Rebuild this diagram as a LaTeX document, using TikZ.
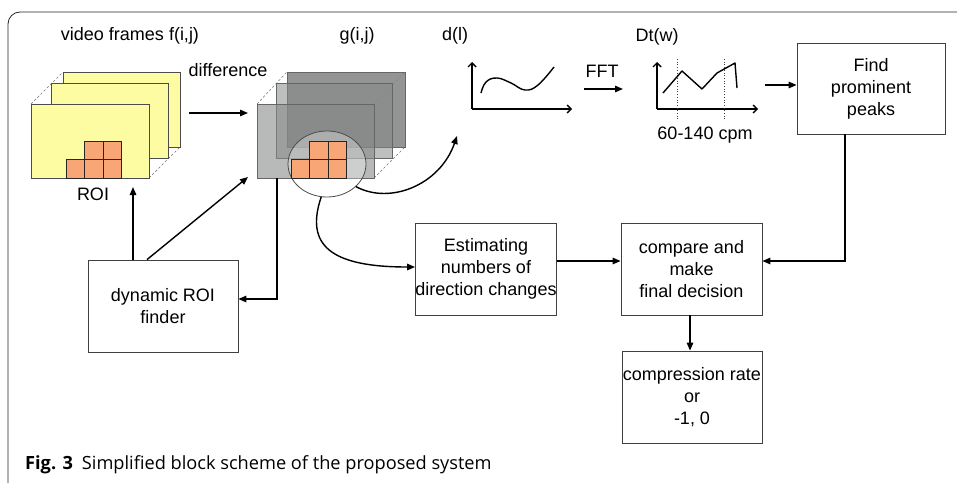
\documentclass[tikz,border=0pt]{standalone}
\usepackage{fontspec}
\setmainfont{Liberation Sans}
\newfontfamily\capfont{Open Sans}
\usetikzlibrary{arrows.meta,shapes.geometric}
\definecolor{fyel}{HTML}{FDFCA2}
\definecolor{forg}{HTML}{F9A676}
\definecolor{gfrm}{HTML}{878888}
\begin{document}
\begin{tikzpicture}[x=1pt,y=-1pt,
  box/.style={draw=black!75, line width=0.8pt, fill=white, align=center, inner sep=0pt, font=\fontsize{18}{22}\selectfont},
  arr/.style={line width=1.4pt, -{Triangle[length=8pt,width=6.5pt]}},
  ln/.style={line width=1.4pt},
  axis/.style={line width=1.4pt, -{Straight Barb[length=4pt,width=8pt]}},
  lbl/.style={font=\fontsize{18}{22}\selectfont, inner sep=0pt},
  dsh/.style={dashed, black!55, line width=0.5pt, dash pattern=on 2.5pt off 2pt},
  frm/.style={draw=black!70, line width=0.7pt},
  gfr/.style={draw=black!60, line width=0.6pt, fill=gfrm},
  sq/.style={draw=black!85, line width=0.7pt, fill=forg},
]
\useasboundingbox (0,0) rectangle (957,482);
\draw[black!85, line width=0.8pt, rounded corners=12pt] (8,12) rectangle (990,510);

% yellow frames
\draw[dsh] (31,104) -- (63,72) (149,104) -- (180,72) (149,178) -- (180,147);
\draw[frm, fill=fyel] (63,72) rectangle (180,147);
\draw[frm, fill=fyel] (51,83) rectangle (168,158);
\draw[frm, fill=fyel] (31,104) rectangle (149,178);
\foreach \x in {66,84.5,103} \draw[sq] (\x,159.5) rectangle ++(18.5,18.5);
\foreach \x in {84.5,103} \draw[sq] (\x,141) rectangle ++(18.5,18.5);

% gray frames
\draw[dsh] (257,104) -- (287,72) (374,104) -- (405,72) (374,178) -- (405,147);
\draw[gfr, fill opacity=0.9] (287,72) rectangle (405,147);
\draw[gfr, fill opacity=0.55] (276,83) rectangle (392,158);
\draw[gfr, fill opacity=0.59] (257,104) rectangle (374,178);
\node[ellipse, draw=black!70, line width=0.8pt, fill=white, fill opacity=0.3, minimum width=78pt, minimum height=66pt, inner sep=0pt] (ell) at (327,164) {};
\foreach \x in {291,309.5,328} \draw[sq] (\x,159.5) rectangle ++(18.5,18.5);
\foreach \x in {309.5,328} \draw[sq] (\x,141) rectangle ++(18.5,18.5);

% labels
\node[lbl] (vf) at (130,36) {video frames f(i,j)};
\node[lbl] (gij) at (357,36) {g(i,j)};
\node[lbl] (dl) at (455,36) {d(l)};
\node[lbl] (dt) at (657,37) {Dt(w)};
\node[lbl] (diff) at (228,70) {difference};
\node[lbl] (roi) at (93,194) {ROI};
\node[lbl] (fft) at (602,71) {FFT};
\node[lbl] (cpm) at (705,135) {60-140 cpm};

% boxes
\node[box, minimum width=150pt, minimum height=92pt] (dyn) at (163,306) {dynamic ROI\\finder};
\node[box, minimum width=140pt, minimum height=92pt] (est) at (486,269) {Estimating\\numbers of\\direction changes};
\node[box, minimum width=141pt, minimum height=92pt] (cmp) at (691.5,269) {compare and\\make\\final decision};
\node[box, minimum width=140pt, minimum height=92pt] (comp) at (692,397) {compression rate\\or\\-1, 0};
\node[box, minimum width=148pt, minimum height=91pt] (peaks) at (871,88.5) {Find\\prominent\\peaks};

% coordinates
\coordinate (fout) at (189,113);
\coordinate (gin) at (248,113);
\coordinate (roitip) at (133,187);
\coordinate (gin2) at (248,177);
\coordinate (gout) at (277,178);
\coordinate (dtip) at (457,136);
\coordinate (fftA) at (584,89);
\coordinate (fftB) at (623,89);
\coordinate (dtout) at (765,85);

% connectors
\draw[arr] (fout) -- (gin);
\draw[arr] ([xshift=-30pt]dyn.north) -- (roitip);
\draw[arr] ([xshift=-16pt]dyn.north) -- (gin2);
\draw[arr] (gout) |- ([yshift=7pt]dyn.east);
\draw[arr] (ell.-38) .. controls (390,205) and (440,185) .. (dtip);
\draw[arr] (ell.-100) .. controls (305,245) and (330,267) .. ([yshift=2pt]est.west);
\draw[arr] ([yshift=8pt]est.east) -- ([yshift=8pt]cmp.west);
\draw[arr] ([xshift=-26pt]peaks.south) |- ([yshift=8pt]cmp.east);
\draw[arr] ([xshift=-1.5pt]cmp.south) -- ([xshift=-2pt]comp.north);
\draw[arr] (fftA) -- (fftB);
\draw[arr] (dtout) -- ([yshift=3.5pt]peaks.west);

% d(l) graph
\draw[axis] (472,109) -- (472,62);
\draw[axis] (472,109) -- (572,109);
\draw[ln] plot[smooth, tension=0.7] coordinates {(481,93) (486,82) (497,78) (511,83) (525,90) (538,85) (554,67)};

% Dt graph
\draw[axis] (657,109) -- (657,62);
\draw[axis] (657,109) -- (758,109);
\draw[dotted, black!75, line width=0.7pt] (677,59) -- (677,119) (724,59) -- (724,119);
\draw[ln, line join=round] (663,93) -- (682,71) -- (702,89) -- (717,73) -- (735,63) -- (737,88);

% caption
\node[anchor=base west, inner sep=0pt, font=\capfont\fontsize{18.2}{22}\selectfont] (cap) at (25,469) {\textbf{Fig. 3}\hspace{9pt}Simplified block scheme of the proposed system};
\end{tikzpicture}
\end{document}
